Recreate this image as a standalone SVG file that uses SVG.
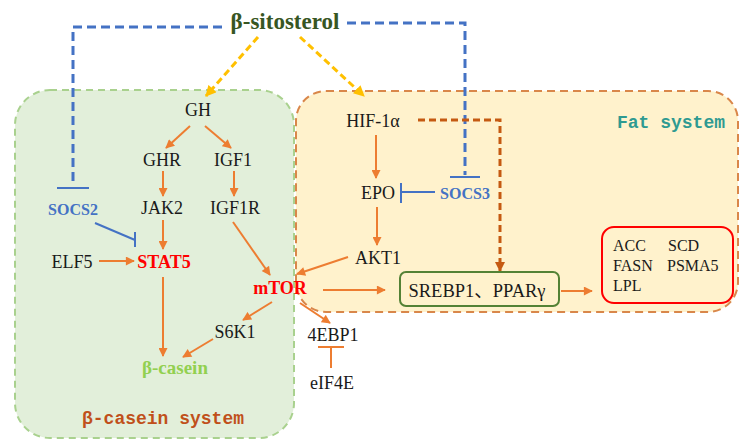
<svg xmlns="http://www.w3.org/2000/svg" width="739" height="441" viewBox="0 0 739 441">
<style>
.t{font-family:"Liberation Serif","Times New Roman",serif;font-size:18px;fill:#1a1a1a;text-anchor:middle;dominant-baseline:central}
.b{font-weight:bold}
.blue{fill:#4472c4;font-size:16px}
.red{fill:#ff0000}
.m{font-family:"Liberation Mono","Courier New",monospace;font-weight:bold;font-size:18px}
.sm{font-size:16px;text-anchor:start}
.o{stroke:#ed7d31;stroke-width:2;fill:none}
.bl{stroke:#4472c4;stroke-width:2;fill:none}
.bd{stroke:#4472c4;stroke-width:3;fill:none;stroke-dasharray:9 5}
.yd{stroke:#ffc000;stroke-width:3;fill:none;stroke-dasharray:7 4}
.rd{stroke:#c55a11;stroke-width:3;fill:none;stroke-dasharray:7 4}
</style>
<defs>
<marker id="ao" viewBox="0 0 10 10" refX="9" refY="5" markerWidth="10" markerHeight="9" markerUnits="userSpaceOnUse" orient="auto"><path d="M0,0 L10,5 L0,10 Z" fill="#ed7d31"/></marker>
<marker id="ay" viewBox="0 0 10 10" refX="9" refY="5" markerWidth="12" markerHeight="11" markerUnits="userSpaceOnUse" orient="auto"><path d="M0,0 L10,5 L0,10 Z" fill="#ffc000"/></marker>
<marker id="ar" viewBox="0 0 10 10" refX="9" refY="5" markerWidth="11" markerHeight="10" markerUnits="userSpaceOnUse" orient="auto"><path d="M0,0 L10,5 L0,10 Z" fill="#c55a11"/></marker>
</defs>
<rect width="739" height="441" fill="#ffffff"/>
<g id="beta-casein-system">
<rect x="15" y="90" width="279" height="348" rx="35" fill="#e2efda" stroke="#a9d18e" stroke-width="2" stroke-dasharray="7 5"/>
<text class="m" x="163" y="419" fill="#c0501a" text-anchor="middle" dominant-baseline="central">β-casein system</text>
</g>
<g id="fat-system">
<rect x="296" y="91" width="442" height="221" rx="30" fill="#fff2cc" stroke="#d9874a" stroke-width="2" stroke-dasharray="8 5"/>
<text class="m" x="671" y="123" fill="#2e9a91" text-anchor="middle" dominant-baseline="central">Fat system</text>
</g>
<g id="connectors">
<path class="yd" d="M258,37 L206,96" marker-end="url(#ay)"/>
<path class="yd" d="M300,37 L364,96" marker-end="url(#ay)"/>
<path class="bd" d="M222,27 L73,27 L73,186"/>
<path class="bl" d="M57,188 L89,188" stroke-width="3"/>
<path class="bd" d="M347,23 L465,23 L465,175"/>
<path class="bl" d="M450,177 L480,177" stroke-width="3"/>
<path class="o" d="M190,126 L166,148" marker-end="url(#ao)"/>
<path class="o" d="M205,126 L231,148" marker-end="url(#ao)"/>
<path class="o" d="M163,171 L163,196" marker-end="url(#ao)"/>
<path class="o" d="M234,171 L234,196" marker-end="url(#ao)"/>
<path class="o" d="M163,220 L163,249" marker-end="url(#ao)"/>
<path class="o" d="M99,261 L134,261" marker-end="url(#ao)"/>
<path class="bl" d="M95,223 L135,240"/>
<path class="bl" d="M135,232 L135,247"/>
<path class="o" d="M163,277 L163,356" marker-end="url(#ao)"/>
<path class="o" d="M233,222 L270,275" marker-end="url(#ao)"/>
<path class="o" d="M348,257 L297,274" marker-end="url(#ao)"/>
<path class="o" d="M272,302 L243,320" marker-end="url(#ao)"/>
<path class="o" d="M213,339 L183,357" marker-end="url(#ao)"/>
<path class="o" d="M300,303 L330,323" marker-end="url(#ao)"/>
<path class="o" d="M331,368 L331,348"/>
<path class="o" d="M318,347 L344,347" stroke-width="2.5"/>
<path class="o" d="M376,135 L376,178" marker-end="url(#ao)"/>
<path class="o" d="M377,207 L377,245" marker-end="url(#ao)"/>
<path class="bl" d="M435,192 L402,192"/>
<path class="bl" d="M401,183 L401,203"/>
<path class="rd" d="M418,120 L500,120 L500,271" marker-end="url(#ar)"/>
<path class="o" d="M323,290 L385,290" marker-end="url(#ao)"/>
<path class="o" d="M561,291 L592,291" marker-end="url(#ao)"/>
</g>
<g id="beta-sitosterol"><text class="t b" x="285" y="21" style="font-size:23px;fill:#375623">β-sitosterol</text></g>
<g id="GH"><text class="t" x="198" y="110">GH</text></g>
<g id="GHR"><text class="t" x="162" y="160">GHR</text></g>
<g id="IGF1"><text class="t" x="233" y="160">IGF1</text></g>
<g id="JAK2"><text class="t" x="162" y="208">JAK2</text></g>
<g id="IGF1R"><text class="t" x="235" y="208">IGF1R</text></g>
<g id="SOCS2"><text class="t b blue" x="73" y="209">SOCS2</text></g>
<g id="ELF5"><text class="t" x="72" y="262">ELF5</text></g>
<g id="STAT5"><text class="t b red" x="164" y="262">STAT5</text></g>
<g id="mTOR"><text class="t b red" x="280" y="288">mTOR</text></g>
<g id="S6K1"><text class="t" x="235" y="332">S6K1</text></g>
<g id="beta-casein"><text class="t b" x="175" y="367" style="fill:#92d050;font-size:19px">β-casein</text></g>
<g id="4EBP1"><text class="t" x="333" y="335">4EBP1</text></g>
<g id="eIF4E"><text class="t" x="332" y="383">eIF4E</text></g>
<g id="HIF-1a"><text class="t" x="373" y="121">HIF-1α</text></g>
<g id="EPO"><text class="t" x="378" y="193">EPO</text></g>
<g id="SOCS3"><text class="t b blue" x="465" y="193">SOCS3</text></g>
<g id="AKT1"><text class="t" x="378" y="258">AKT1</text></g>
<g id="SREBP1-PPARg">
<rect x="400" y="272" width="159" height="34" rx="6" fill="none" stroke="#548235" stroke-width="2"/>
<text class="t" x="477" y="291" style="font-family:'Liberation Serif','Noto Sans CJK SC',serif;font-size:18.5px">SREBP1、PPARγ</text>
</g>
<g id="lipid-genes">
<rect x="602" y="227" width="131" height="76" rx="12" fill="none" stroke="#ff0000" stroke-width="2"/>
<text class="t sm" x="613" y="245">ACC</text>
<text class="t sm" x="668" y="245">SCD</text>
<text class="t sm" x="613" y="265">FASN</text>
<text class="t sm" x="667" y="265">PSMA5</text>
<text class="t sm" x="613" y="285">LPL</text>
</g>
</svg>
